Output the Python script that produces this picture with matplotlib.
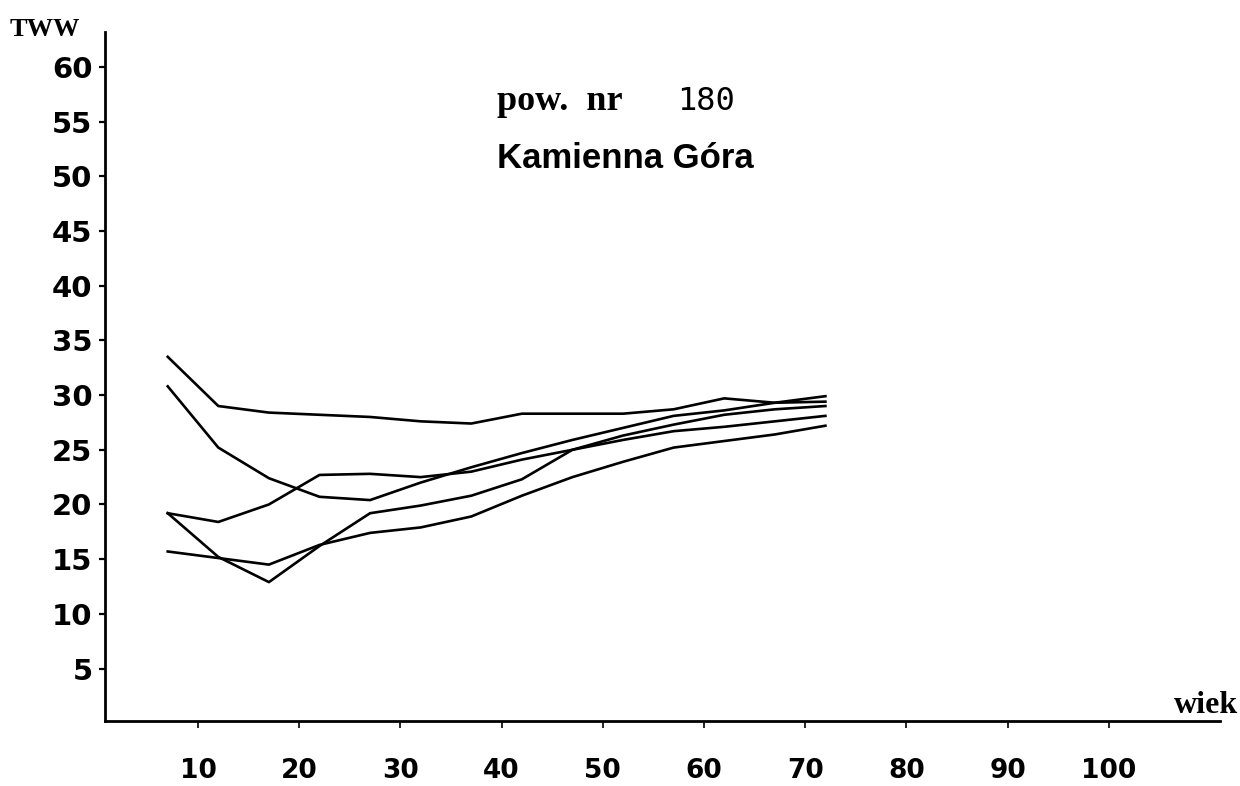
import matplotlib
matplotlib.use("Agg")
import matplotlib.pyplot as plt

# wiek (age) sampling points shared by all curves
wiek = [7, 12, 17, 22, 27, 32, 37, 42, 47, 52, 57, 62, 67, 72]

# TWW values
seria_a = [33.5, 29.0, 28.4, 28.2, 28.0, 27.6, 27.4, 28.3, 28.3, 28.3, 28.7, 29.7, 29.3, 29.4]
seria_b = [30.8, 25.2, 22.4, 20.7, 20.4, 22.0, 23.4, 24.7, 25.9, 27.0, 28.1, 28.6, 29.3, 29.9]
seria_c = [19.2, 18.4, 20.0, 22.7, 22.8, 22.5, 23.0, 24.1, 25.0, 26.3, 27.3, 28.2, 28.7, 29.0]
seria_d = [19.2, 15.2, 12.9, 16.2, 19.2, 19.9, 20.8, 22.3, 25.0, 25.9, 26.7, 27.1, 27.6, 28.1]
seria_e = [15.7, 15.1, 14.5, 16.3, 17.4, 17.9, 18.9, 20.8, 22.5, 23.9, 25.2, 25.8, 26.4, 27.2]

y_ticks = [5, 10, 15, 20, 25, 30, 35, 40, 45, 50, 55, 60]
x_ticks = [10, 20, 30, 40, 50, 60, 70, 80, 90, 100]

W, H = 1240, 786
fig = plt.figure(figsize=(W / 100, H / 100), dpi=100)
ax = fig.add_axes([105 / W, 1 - 721 / H, (1220 - 105) / W, (721 - 32) / H])

for seria in [seria_a, seria_b, seria_c, seria_d, seria_e]:
    ax.plot(wiek, seria, color="black", lw=1.9, solid_joinstyle="round")

ax.set_xlim(0.8, 111)
ax.set_ylim(0.2, 63.2)

for side in ["top", "right"]:
    ax.spines[side].set_visible(False)
for side in ["left", "bottom"]:
    ax.spines[side].set_linewidth(2.0)

ax.set_yticks(y_ticks)
ax.set_yticklabels([str(v) for v in y_ticks])
ax.set_xticks(x_ticks)
ax.set_xticklabels([str(v) for v in x_ticks])
ax.tick_params(axis="y", direction="out", length=4, width=1.6, pad=5)
ax.tick_params(axis="x", direction="out", length=5, width=1.2, pad=22)
for lab in ax.get_yticklabels():
    lab.set_fontfamily("DejaVu Sans")
    lab.set_fontweight("bold")
    lab.set_fontsize(21)
for lab in ax.get_xticklabels():
    lab.set_fontfamily("DejaVu Sans")
    lab.set_fontweight("bold")
    lab.set_fontsize(19)

# axis captions
fig.text(10 / W, 1 - 36 / H, "TWW", family="Liberation Serif", weight="bold", fontsize=19)
fig.text(1238 / W, 1 - 713 / H, "wiek", family="Liberation Serif", weight="bold",
         fontsize=23, ha="right")

# titles
fig.text(497 / W, 1 - 110 / H, "pow.  nr", family="Liberation Serif", weight="bold", fontsize=26)
fig.text(677 / W, 1 - 110 / H, "180", family="DejaVu Sans Mono", fontsize=23)
fig.text(497 / W, 1 - 168 / H, "Kamienna Góra", family="Liberation Sans", weight="bold",
         fontsize=25)

fig.savefig("out.png", dpi=100)
